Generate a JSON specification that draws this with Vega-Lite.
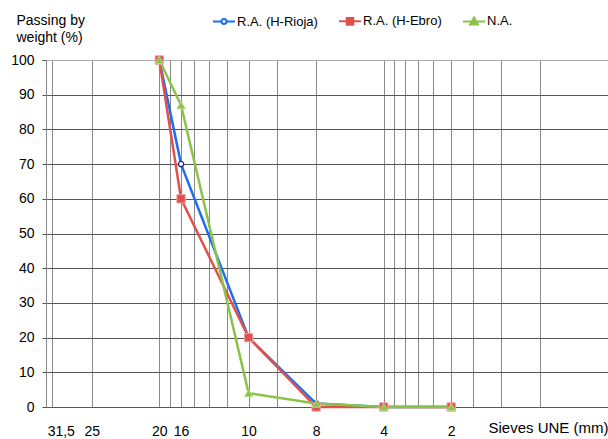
{
  "$schema": "https://vega.github.io/schema/vega-lite/v6.json",
  "width": 562,
  "height": 347,
  "autosize": "none",
  "padding": {"left": 46, "top": 60, "right": 0, "bottom": 32},
  "background": "white",
  "config": {"view": {"stroke": null}, "font": "Liberation Sans"},
  "data": {
    "values": [
      {"series": "R.A. (H-Rioja)", "sieve": "20", "pos": 100, "pass": 100},
      {"series": "R.A. (H-Rioja)", "sieve": "16", "pos": 80, "pass": 70},
      {"series": "R.A. (H-Rioja)", "sieve": "10", "pos": 40, "pass": 20},
      {"series": "R.A. (H-Rioja)", "sieve": "8", "pos": 20, "pass": 1},
      {"series": "R.A. (H-Rioja)", "sieve": "4", "pos": 10, "pass": 0},
      {"series": "R.A. (H-Rioja)", "sieve": "2", "pos": 5, "pass": 0},
      {"series": "R.A. (H-Ebro)", "sieve": "20", "pos": 100, "pass": 100},
      {"series": "R.A. (H-Ebro)", "sieve": "16", "pos": 80, "pass": 60},
      {"series": "R.A. (H-Ebro)", "sieve": "10", "pos": 40, "pass": 20},
      {"series": "R.A. (H-Ebro)", "sieve": "8", "pos": 20, "pass": 0},
      {"series": "R.A. (H-Ebro)", "sieve": "4", "pos": 10, "pass": 0},
      {"series": "R.A. (H-Ebro)", "sieve": "2", "pos": 5, "pass": 0},
      {"series": "N.A.", "sieve": "20", "pos": 100, "pass": 100},
      {"series": "N.A.", "sieve": "16", "pos": 80, "pass": 87},
      {"series": "N.A.", "sieve": "10", "pos": 40, "pass": 4},
      {"series": "N.A.", "sieve": "8", "pos": 20, "pass": 1},
      {"series": "N.A.", "sieve": "4", "pos": 10, "pass": 0},
      {"series": "N.A.", "sieve": "2", "pos": 5, "pass": 0}
    ]
  },
  "encoding": {
    "x": {
      "field": "pos",
      "type": "quantitative",
      "scale": {"type": "log", "domain": [1, 320], "reverse": true, "nice": false},
      "axis": {
        "values": [300, 275, 200, 100, 90, 80, 70, 60, 50, 40, 30, 20, 10, 9, 8, 7, 6, 5, 4, 3, 2],
        "labelExpr": "datum.value===275?'31,5':datum.value===200?'25':datum.value===100?'20':datum.value===80?'16':datum.value===40?'10':datum.value===20?'8':datum.value===10?'4':datum.value===5?'2':''",
        "grid": true,
        "gridColor": "#8a8a8a",
        "gridOpacity": {"condition": {"test": "datum.value===275", "value": 0}, "value": 1},
        "ticks": false,
        "tickSize": 0,
        "labelPadding": 17,
        "labelFontSize": 14,
        "labelColor": "#000",
        "labelOverlap": false,
        "labelFlush": false,
        "labelBound": false,
        "domainColor": "#555",
        "title": "Sieves UNE (mm)",
        "titleX": 562,
        "titleY": 25,
        "titleAlign": "right",
        "titleAnchor": "end",
        "titleBaseline": "alphabetic",
        "titleFontSize": 15,
        "titleFontWeight": "normal",
        "titleColor": "#000"
      }
    },
    "y": {
      "field": "pass",
      "type": "quantitative",
      "scale": {"domain": [0, 100], "nice": false},
      "axis": {
        "values": [0, 10, 20, 30, 40, 50, 60, 70, 80, 90, 100],
        "labelOverlap": false,
        "title": ["Passing by", "weight (%)"],
        "titleAngle": 0,
        "titleAlign": "left",
        "titleBaseline": "alphabetic",
        "titleX": -30,
        "titleY": -36,
        "titleLineHeight": 17,
        "titleFontSize": 14,
        "titleFontWeight": "normal",
        "titleColor": "#000",
        "labelFontSize": 14,
        "labelColor": "#000",
        "labelPadding": 8,
        "tickSize": 4,
        "tickColor": "#555",
        "gridColor": {"condition": {"test": "datum.value===100", "value": "#aaaaaa"}, "value": "#555"},
        "domainColor": "#888"
      }
    }
  },
  "layer": [
    {
      "mark": {"type": "line", "strokeWidth": 2.5},
      "encoding": {
        "color": {
          "field": "series",
          "type": "nominal",
          "scale": {
            "domain": ["R.A. (H-Rioja)", "R.A. (H-Ebro)", "N.A."],
            "range": ["#1e6ef0", "#e0514d", "#8bc34a"]
          },
          "legend": {
            "orient": "none",
            "legendX": 166,
            "legendY": -51,
            "direction": "horizontal",
            "title": null,
            "labelFontSize": 13,
            "labelColor": "#000",
            "symbolSize": 484,
            "symbolStrokeWidth": 2,
            "columnPadding": 17,
            "labelOffset": 1,
            "padding": 0,
            "encode": {
              "symbols": {
                "update": {
                  "shape": {"signal": "datum.value==='R.A. (H-Rioja)'?'M-1,0L-0.227,0M0.227,0L1,0M-0.227,0A0.227,0.227,0,1,1,0.227,0A0.227,0.227,0,1,1,-0.227,0Z':datum.value==='R.A. (H-Ebro)'?'M-1,0L1,0M-0.3,-0.3L0.3,-0.3L0.3,0.3L-0.3,0.3Z':'M-1,0L1,0M0,-0.36L0.36,0.28L-0.36,0.28Z'"},
                  "stroke": {"scale": "color", "field": "value"},
                  "fill": {"signal": "datum.value==='R.A. (H-Rioja)'?'#ffffff':scale('color',datum.value)"},
                  "strokeWidth": {"value": 2},
                  "size": {"value": 484},
                  "opacity": {"value": 1}
                }
              }
            }
          }
        }
      }
    },
    {
      "transform": [{"filter": "datum.series==='R.A. (H-Rioja)'"}],
      "mark": {"type": "point", "shape": "circle", "filled": true, "fill": "#ffffff", "stroke": "#1a2a8a", "strokeWidth": 1.3, "size": 28, "opacity": 1}
    },
    {
      "transform": [{"filter": "datum.series==='R.A. (H-Ebro)'"}],
      "mark": {"type": "point", "shape": "square", "filled": true, "fill": "#e0514d", "stroke": "#f0a0a0", "strokeWidth": 1, "size": 70, "opacity": 1}
    },
    {
      "transform": [{"filter": "datum.series==='N.A.'"}],
      "mark": {"type": "point", "shape": "triangle-up", "filled": true, "fill": "#8bc34a", "stroke": "#b5dc8a", "strokeWidth": 1, "size": 70, "opacity": 1}
    }
  ]
}
